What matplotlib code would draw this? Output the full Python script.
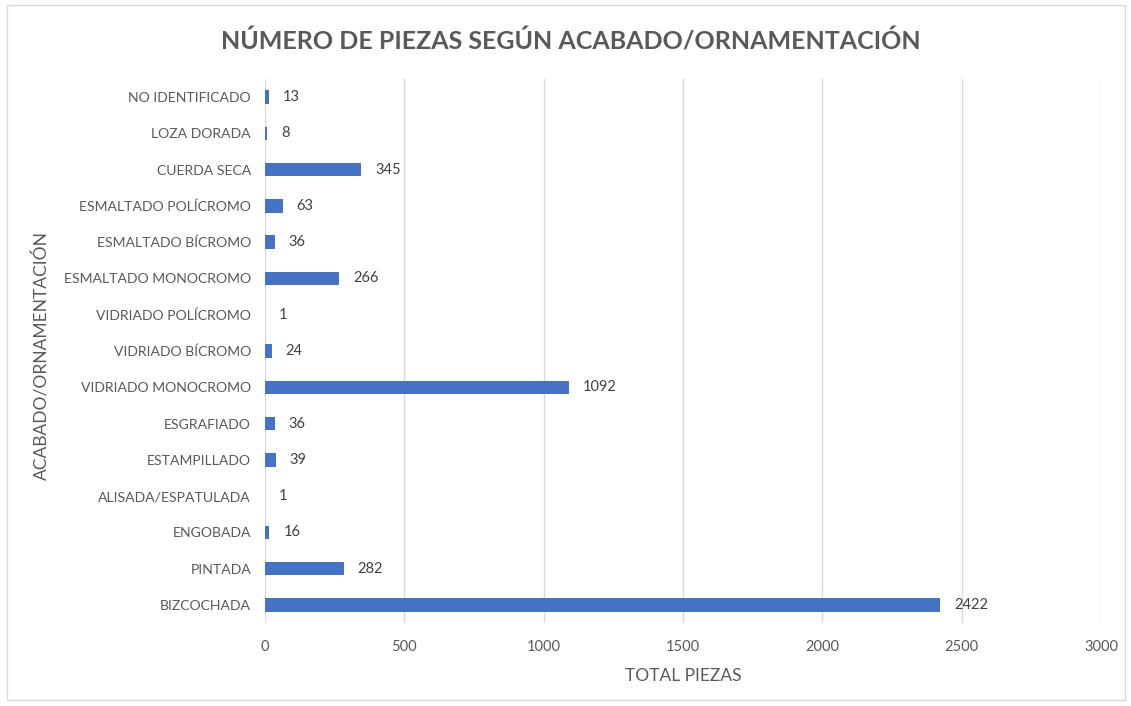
import matplotlib
matplotlib.use("Agg")
import matplotlib.pyplot as plt
from matplotlib.patches import Rectangle

plt.rcParams['font.family'] = ['Lato', 'DejaVu Sans']

categories = [
    "BIZCOCHADA", "PINTADA", "ENGOBADA", "ALISADA/ESPATULADA", "ESTAMPILLADO",
    "ESGRAFIADO", "VIDRIADO MONOCROMO", "VIDRIADO BÍCROMO", "VIDRIADO POLÍCROMO",
    "ESMALTADO MONOCROMO", "ESMALTADO BÍCROMO", "ESMALTADO POLÍCROMO",
    "CUERDA SECA", "LOZA DORADA", "NO IDENTIFICADO",
]
piezas = [2422, 282, 16, 1, 39, 36, 1092, 24, 1, 266, 36, 63, 345, 8, 13]
x_ticks = [0, 500, 1000, 1500, 2000, 2500, 3000]

bar_color = "#4472C4"
text_color = "#595959"
label_color = "#404040"

fig = plt.figure(figsize=(11.31, 7.06), dpi=100)
ax = fig.add_axes([0.2343, 0.1174, 0.9735 - 0.2343, 0.8882 - 0.1174])

pos = list(range(len(categories)))
ax.barh(pos, piezas, height=0.37, color=bar_color, zorder=3)
for y, v in zip(pos, piezas):
    ax.annotate(f"{v}", xy=(v, y), xytext=(10, 0), textcoords="offset points",
                ha="left", va="center", fontsize=10.5, color=label_color)

ax.set_xlim(0, 3000)
ax.set_ylim(-0.5, len(categories) - 0.5)
ax.set_xticks(x_ticks)
ax.set_xticklabels([str(t) for t in x_ticks])
ax.set_yticks(pos)
ax.set_yticklabels(categories)
ax.tick_params(axis='both', length=0, colors=text_color, labelsize=10.5)
ax.tick_params(axis='y', labelsize=10.1, pad=10)
ax.tick_params(axis='x', pad=12)
ax.grid(axis='x', color="#D9D9D9", linewidth=1.0, zorder=0)
for s in ax.spines.values():
    s.set_visible(False)

ax.set_xlabel("TOTAL PIEZAS", fontsize=12.5, color=text_color, labelpad=10)
fig.text(0.037, 0.497, "ACABADO/ORNAMENTACIÓN", rotation=90, ha="center",
         va="center", fontsize=12.5, color=text_color)
fig.text(0.505, 0.941, "NÚMERO DE PIEZAS SEGÚN ACABADO/ORNAMENTACIÓN",
         ha="center", va="center", fontsize=18, fontweight="bold", color=text_color)

# thin frame around the chart area
fig.patches.append(Rectangle((0.006, 0.008), 0.989, 0.985, transform=fig.transFigure,
                             fill=False, edgecolor="#D9D9D9", linewidth=1.0))

fig.savefig("out.png", dpi=100, facecolor="white")
